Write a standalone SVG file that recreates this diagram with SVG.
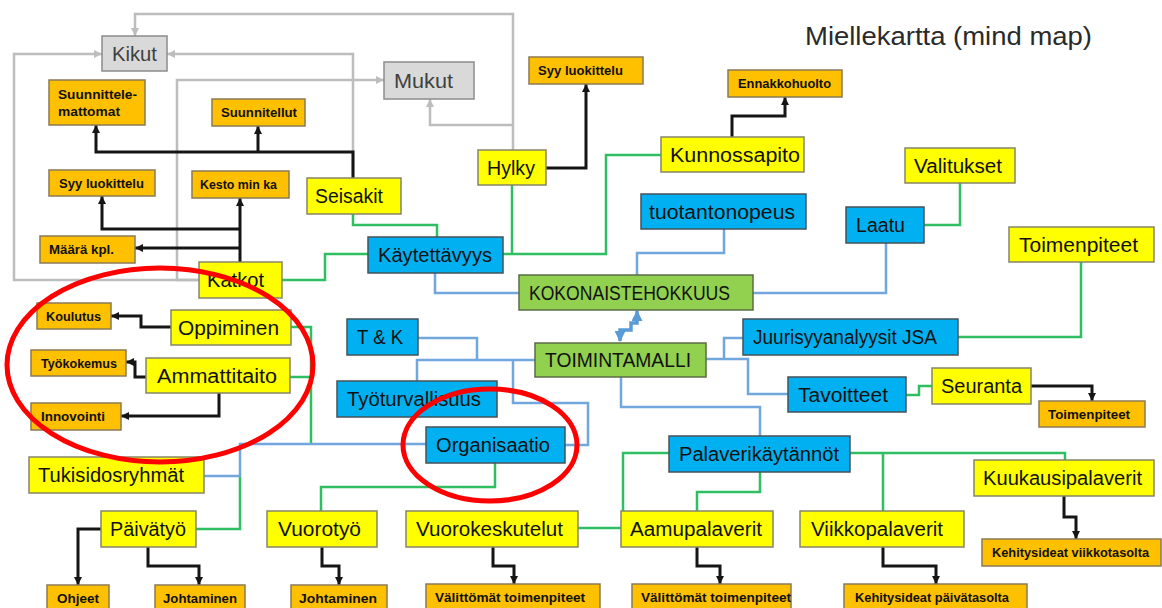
<svg xmlns="http://www.w3.org/2000/svg" width="1162" height="608" viewBox="0 0 1162 608">
  <style>
    text { font-family: "Liberation Sans", Arial, sans-serif; fill: #111; }
    .big { font-size: 20px; }
    .small { font-size: 12px; font-weight: bold; }
    .title { font-size: 25px; fill: #2a2a2a; }
    .gray-box { fill: #d9d9d9; stroke: #8c8c8c; stroke-width: 1.5; }
    .yellow { fill: #ffff00; stroke: #85856a; stroke-width: 1.5; }
    .orange { fill: #ffc000; stroke: #8a7a55; stroke-width: 1.5; }
    .blue { fill: #00b0f0; stroke: #45525a; stroke-width: 1.5; }
    .green-box { fill: #92d050; stroke: #5b6b45; stroke-width: 1.5; }
    .c { fill: none; stroke-linejoin: miter; }
    .c-gray { stroke: #bdbdbd; stroke-width: 2.5; }
    .c-black { stroke: #151515; stroke-width: 3; }
    .c-green { stroke: #2fbf62; stroke-width: 2.5; }
    .c-blue { stroke: #71a7dd; stroke-width: 2.5; }
    .ring { fill: none; stroke: #ff0000; stroke-width: 5; }
  </style>
  <defs>
    <marker id="ah-black" viewBox="0 0 10 10" refX="10" refY="5" markerWidth="8" markerHeight="8" markerUnits="userSpaceOnUse" orient="auto">
      <path d="M0,0 L10,5 L0,10 z" fill="#151515"/>
    </marker>
    <marker id="ah-gray" viewBox="0 0 10 10" refX="10" refY="5" markerWidth="8" markerHeight="8" markerUnits="userSpaceOnUse" orient="auto">
      <path d="M0,0 L10,5 L0,10 z" fill="#bdbdbd"/>
    </marker>
    <marker id="ah-blue" viewBox="0 0 10 10" refX="9" refY="5" markerWidth="11" markerHeight="11" markerUnits="userSpaceOnUse" orient="auto-start-reverse">
      <path d="M0,0 L10,5 L0,10 z" fill="#5b9bd5"/>
    </marker>
  </defs>

  <rect width="1162" height="608" fill="#ffffff"/>

  <text class="title" x="805" y="45" textLength="287" lengthAdjust="spacingAndGlyphs">Miellekartta (mind map)</text>

  <!-- connectors -->
  <g id="connectors">
    <!-- gray: feedback to Kikut / Mukut -->
    <path class="c c-gray" d="M513,150 V14 H135 V36" marker-end="url(#ah-gray)"/>
    <path class="c c-gray" d="M513,125 H430 V99" marker-end="url(#ah-gray)"/>
    <path class="c c-gray" d="M199,280 H14 V54 H102" marker-end="url(#ah-gray)"/>
    <path class="c c-gray" d="M353,178 V54 H167" marker-end="url(#ah-gray)"/>
    <path class="c c-gray" d="M199,280 H177 V80 H384" marker-end="url(#ah-gray)"/>

    <!-- black: detail arrows -->
    <path class="c c-black" d="M353,178 V152 H96 V125" marker-end="url(#ah-black)"/>
    <path class="c c-black" d="M258,152 V126" marker-end="url(#ah-black)"/>
    <path class="c c-black" d="M240,262 V198" marker-end="url(#ah-black)"/>
    <path class="c c-black" d="M240,229 H102 V196" marker-end="url(#ah-black)"/>
    <path class="c c-black" d="M240,248 H135" marker-end="url(#ah-black)"/>
    <path class="c c-black" d="M546,168 H586 V84" marker-end="url(#ah-black)"/>
    <path class="c c-black" d="M732,137 V116 H785 V97" marker-end="url(#ah-black)"/>
    <path class="c c-black" d="M171,327 H141 V316 H111" marker-end="url(#ah-black)"/>
    <path class="c c-black" d="M146,377 H135 V362 H126" marker-end="url(#ah-black)"/>
    <path class="c c-black" d="M219,393 V416 H121" marker-end="url(#ah-black)"/>
    <path class="c c-black" d="M1031,386 H1092 V401" marker-end="url(#ah-black)"/>
    <path class="c c-black" d="M101,529 H78 V585" marker-end="url(#ah-black)"/>
    <path class="c c-black" d="M148,547 V566 H199 V585" marker-end="url(#ah-black)"/>
    <path class="c c-black" d="M322,547 V566 H339 V585" marker-end="url(#ah-black)"/>
    <path class="c c-black" d="M493,547 V566 H514 V584" marker-end="url(#ah-black)"/>
    <path class="c c-black" d="M697,547 V566 H720 V584" marker-end="url(#ah-black)"/>
    <path class="c c-black" d="M883,547 V566 H936 V584" marker-end="url(#ah-black)"/>
    <path class="c c-black" d="M1064,496 V517 H1076 V539" marker-end="url(#ah-black)"/>

    <!-- blue: main structure -->
    <path class="c c-blue" d="M724,229 V253 H637 V275"/>
    <path class="c c-blue" d="M435,273 V293 H519"/>
    <path class="c c-blue" d="M753,293 H886 V243"/>
    <path class="c c-blue" d="M418,338 H477 V360"/>
    <path class="c c-blue" d="M417,381 V360 H535"/>
    <path class="c c-blue" d="M513,360 V403 H588 V445 H565"/>
    <path class="c c-blue" d="M621,377 V407 H760 V436"/>
    <path class="c c-blue" d="M706,359 H748 V394 H788"/>
    <path class="c c-blue" d="M724,359 V338 H743"/>
    <path class="c c-blue" d="M204,476 H240 V444 H426"/>
    <path class="c" d="M620,341 V330 H631 V323 H637 V311" stroke="#5b9bd5" stroke-width="3.5" marker-start="url(#ah-blue)" marker-end="url(#ah-blue)"/>

    <!-- green: sub-branches -->
    <path class="c c-green" d="M353,214 V225 H437 V237"/>
    <path class="c c-green" d="M282,280 H325 V254 H368"/>
    <path class="c c-green" d="M512,185 V254"/>
    <path class="c c-green" d="M503,254 H606 V155 H661"/>
    <path class="c c-green" d="M960,183 V225 H924"/>
    <path class="c c-green" d="M1081,262 V337 H958"/>
    <path class="c c-green" d="M906,395 H919 V386 H932"/>
    <path class="c c-green" d="M291,327 H311 V443"/>
    <path class="c c-green" d="M290,377 H311"/>
    <path class="c c-green" d="M196,529 H240 V477"/>
    <path class="c c-green" d="M495,463 V487 H321 V511"/>
    <path class="c c-green" d="M669,453 H623 V528 H578"/>
    <path class="c c-green" d="M760,472 V492 H697 V511"/>
    <path class="c c-green" d="M850,453 H1065 V460"/>
    <path class="c c-green" d="M883,453 V511"/>
  </g>

  <!-- gray nodes -->
  <g id="kikut"><rect class="gray-box" x="102" y="36" width="65" height="35"/><text class="big" x="112" y="60.5" textLength="45" lengthAdjust="spacingAndGlyphs" style="fill:#404040">Kikut</text></g>
  <g id="mukut"><rect class="gray-box" x="384" y="62" width="90" height="37"/><text class="big" x="394" y="87.5" textLength="59" lengthAdjust="spacingAndGlyphs" style="fill:#404040">Mukut</text></g>

  <!-- orange detail nodes -->
  <g id="suunnittelemattomat"><rect class="orange" x="49" y="80" width="96" height="45"/><text class="small" x="58" y="98.5" textLength="79" lengthAdjust="spacingAndGlyphs">Suunnittele-</text><text class="small" x="58" y="115.5" textLength="62" lengthAdjust="spacingAndGlyphs">mattomat</text></g>
  <g id="suunnitellut"><rect class="orange" x="212" y="99" width="93" height="27"/><text class="small" x="221" y="117" textLength="76" lengthAdjust="spacingAndGlyphs">Suunnitellut</text></g>
  <g id="syy-luokittelu-1"><rect class="orange" x="49" y="170" width="106" height="26"/><text class="small" x="59" y="187.5" textLength="85" lengthAdjust="spacingAndGlyphs">Syy luokittelu</text></g>
  <g id="kesto"><rect class="orange" x="192" y="171" width="97" height="27"/><text class="small" x="200" y="189" textLength="77" lengthAdjust="spacingAndGlyphs">Kesto min ka</text></g>
  <g id="maara"><rect class="orange" x="40" y="236" width="95" height="27"/><text class="small" x="49" y="254" textLength="65" lengthAdjust="spacingAndGlyphs">Määrä kpl.</text></g>
  <g id="syy-luokittelu-2"><rect class="orange" x="529" y="57" width="114" height="27"/><text class="small" x="538" y="75" textLength="85" lengthAdjust="spacingAndGlyphs">Syy luokittelu</text></g>
  <g id="ennakkohuolto"><rect class="orange" x="728" y="70" width="114" height="27"/><text class="small" x="738" y="88" textLength="93" lengthAdjust="spacingAndGlyphs">Ennakkohuolto</text></g>
  <g id="koulutus"><rect class="orange" x="37" y="303" width="74" height="26"/><text class="small" x="46" y="320.5" textLength="55" lengthAdjust="spacingAndGlyphs">Koulutus</text></g>
  <g id="tyokokemus"><rect class="orange" x="31" y="350" width="95" height="26"/><text class="small" x="41" y="367.5" textLength="76" lengthAdjust="spacingAndGlyphs">Työkokemus</text></g>
  <g id="innovointi"><rect class="orange" x="31" y="403" width="90" height="27"/><text class="small" x="41" y="421" textLength="64" lengthAdjust="spacingAndGlyphs">Innovointi</text></g>
  <g id="toimenpiteet-2"><rect class="orange" x="1039" y="401" width="106" height="26"/><text class="small" x="1048" y="418.5" textLength="82" lengthAdjust="spacingAndGlyphs">Toimenpiteet</text></g>
  <g id="ohjeet"><rect class="orange" x="47" y="585" width="62" height="27"/><text class="small" x="57" y="603" textLength="42" lengthAdjust="spacingAndGlyphs">Ohjeet</text></g>
  <g id="johtaminen-1"><rect class="orange" x="155" y="585" width="90" height="27"/><text class="small" x="163" y="603" textLength="74" lengthAdjust="spacingAndGlyphs">Johtaminen</text></g>
  <g id="johtaminen-2"><rect class="orange" x="291" y="585" width="96" height="27"/><text class="small" x="299" y="603" textLength="78" lengthAdjust="spacingAndGlyphs">Johtaminen</text></g>
  <g id="valittomat-1"><rect class="orange" x="426" y="584" width="174" height="27"/><text class="small" x="435" y="602" textLength="150" lengthAdjust="spacingAndGlyphs">Välittömät toimenpiteet</text></g>
  <g id="valittomat-2"><rect class="orange" x="632" y="584" width="159" height="27"/><text class="small" x="641" y="602" textLength="150" lengthAdjust="spacingAndGlyphs">Välittömät toimenpiteet</text></g>
  <g id="kehitysideat-paiva"><rect class="orange" x="844" y="584" width="183" height="27"/><text class="small" x="855" y="602" textLength="154" lengthAdjust="spacingAndGlyphs">Kehitysideat päivätasolta</text></g>
  <g id="kehitysideat-viikko"><rect class="orange" x="982" y="539" width="179" height="27"/><text class="small" x="992" y="557" textLength="157" lengthAdjust="spacingAndGlyphs">Kehitysideat viikkotasolta</text></g>

  <!-- yellow nodes -->
  <g id="seisakit"><rect class="yellow" x="307" y="178" width="94" height="36"/><text class="big" x="315" y="203" textLength="68" lengthAdjust="spacingAndGlyphs">Seisakit</text></g>
  <g id="katkot"><rect class="yellow" x="199" y="262" width="83" height="36"/><text class="big" x="207" y="287" textLength="57" lengthAdjust="spacingAndGlyphs">Katkot</text></g>
  <g id="hylky"><rect class="yellow" x="478" y="150" width="68" height="35"/><text class="big" x="487" y="174.5" textLength="48" lengthAdjust="spacingAndGlyphs">Hylky</text></g>
  <g id="kunnossapito"><rect class="yellow" x="661" y="137" width="143" height="35"/><text class="big" x="670" y="161.5" textLength="130" lengthAdjust="spacingAndGlyphs">Kunnossapito</text></g>
  <g id="valitukset"><rect class="yellow" x="905" y="148" width="110" height="35"/><text class="big" x="914" y="172.5" textLength="88" lengthAdjust="spacingAndGlyphs">Valitukset</text></g>
  <g id="toimenpiteet-1"><rect class="yellow" x="1009" y="227" width="145" height="35"/><text class="big" x="1019" y="251.5" textLength="119" lengthAdjust="spacingAndGlyphs">Toimenpiteet</text></g>
  <g id="oppiminen"><rect class="yellow" x="171" y="310" width="120" height="35"/><text class="big" x="178" y="334.5" textLength="101" lengthAdjust="spacingAndGlyphs">Oppiminen</text></g>
  <g id="ammattitaito"><rect class="yellow" x="146" y="358" width="144" height="35"/><text class="big" x="157" y="382.5" textLength="120" lengthAdjust="spacingAndGlyphs">Ammattitaito</text></g>
  <g id="tukisidosryhmat"><rect class="yellow" x="29" y="457" width="175" height="36"/><text class="big" x="38" y="482" textLength="146" lengthAdjust="spacingAndGlyphs">Tukisidosryhmät</text></g>
  <g id="paivatyo"><rect class="yellow" x="101" y="511" width="95" height="36"/><text class="big" x="110" y="536" textLength="76" lengthAdjust="spacingAndGlyphs">Päivätyö</text></g>
  <g id="vuorotyo"><rect class="yellow" x="267" y="511" width="110" height="36"/><text class="big" x="278" y="536" textLength="83" lengthAdjust="spacingAndGlyphs">Vuorotyö</text></g>
  <g id="vuorokeskutelut"><rect class="yellow" x="406" y="511" width="172" height="36"/><text class="big" x="416" y="536" textLength="147" lengthAdjust="spacingAndGlyphs">Vuorokeskutelut</text></g>
  <g id="aamupalaverit"><rect class="yellow" x="621" y="511" width="152" height="36"/><text class="big" x="630" y="536" textLength="132" lengthAdjust="spacingAndGlyphs">Aamupalaverit</text></g>
  <g id="viikkopalaverit"><rect class="yellow" x="800" y="511" width="164" height="36"/><text class="big" x="811" y="536" textLength="132" lengthAdjust="spacingAndGlyphs">Viikkopalaverit</text></g>
  <g id="kuukausipalaverit"><rect class="yellow" x="974" y="460" width="180" height="36"/><text class="big" x="983" y="485" textLength="159" lengthAdjust="spacingAndGlyphs">Kuukausipalaverit</text></g>
  <g id="seuranta"><rect class="yellow" x="932" y="368" width="99" height="36"/><text class="big" x="941" y="393" textLength="81" lengthAdjust="spacingAndGlyphs">Seuranta</text></g>

  <!-- blue nodes -->
  <g id="kaytettavyys"><rect class="blue" x="368" y="237" width="135" height="36"/><text class="big" x="378" y="262" textLength="114" lengthAdjust="spacingAndGlyphs">Käytettävyys</text></g>
  <g id="tuotantonopeus"><rect class="blue" x="641" y="194" width="165" height="35"/><text class="big" x="649" y="218.5" textLength="146" lengthAdjust="spacingAndGlyphs">tuotantonopeus</text></g>
  <g id="laatu"><rect class="blue" x="846" y="207" width="78" height="36"/><text class="big" x="856" y="232" textLength="49" lengthAdjust="spacingAndGlyphs">Laatu</text></g>
  <g id="tk"><rect class="blue" x="347" y="319" width="71" height="36"/><text class="big" x="357" y="344" textLength="46" lengthAdjust="spacingAndGlyphs">T &amp; K</text></g>
  <g id="tyoturvallisuus"><rect class="blue" x="337" y="381" width="160" height="36"/><text class="big" x="347" y="406" textLength="134" lengthAdjust="spacingAndGlyphs">Työturvallisuus</text></g>
  <g id="organisaatio"><rect class="blue" x="426" y="427" width="139" height="36"/><text class="big" x="436" y="452" textLength="114" lengthAdjust="spacingAndGlyphs">Organisaatio</text></g>
  <g id="jsa"><rect class="blue" x="743" y="319" width="215" height="36"/><text class="big" x="753" y="344" textLength="184" lengthAdjust="spacingAndGlyphs">Juurisyyanalyysit JSA</text></g>
  <g id="tavoitteet"><rect class="blue" x="788" y="377" width="118" height="35"/><text class="big" x="798" y="401.5" textLength="90" lengthAdjust="spacingAndGlyphs">Tavoitteet</text></g>
  <g id="palaverikaytannot"><rect class="blue" x="669" y="436" width="181" height="36"/><text class="big" x="679" y="461" textLength="160" lengthAdjust="spacingAndGlyphs">Palaverikäytännöt</text></g>

  <!-- green core nodes -->
  <g id="kokonaistehokkuus"><rect class="green-box" x="519" y="275" width="234" height="35"/><text class="big" x="529" y="299.5" textLength="201" lengthAdjust="spacingAndGlyphs">KOKONAISTEHOKKUUS</text></g>
  <g id="toimintamalli"><rect class="green-box" x="535" y="343" width="171" height="34"/><text class="big" x="545" y="367" textLength="146" lengthAdjust="spacingAndGlyphs">TOIMINTAMALLI</text></g>

  <!-- highlight rings -->
  <ellipse class="ring" cx="160" cy="365" rx="153" ry="97"/>
  <ellipse class="ring" cx="490" cy="445" rx="87" ry="56"/>
</svg>
